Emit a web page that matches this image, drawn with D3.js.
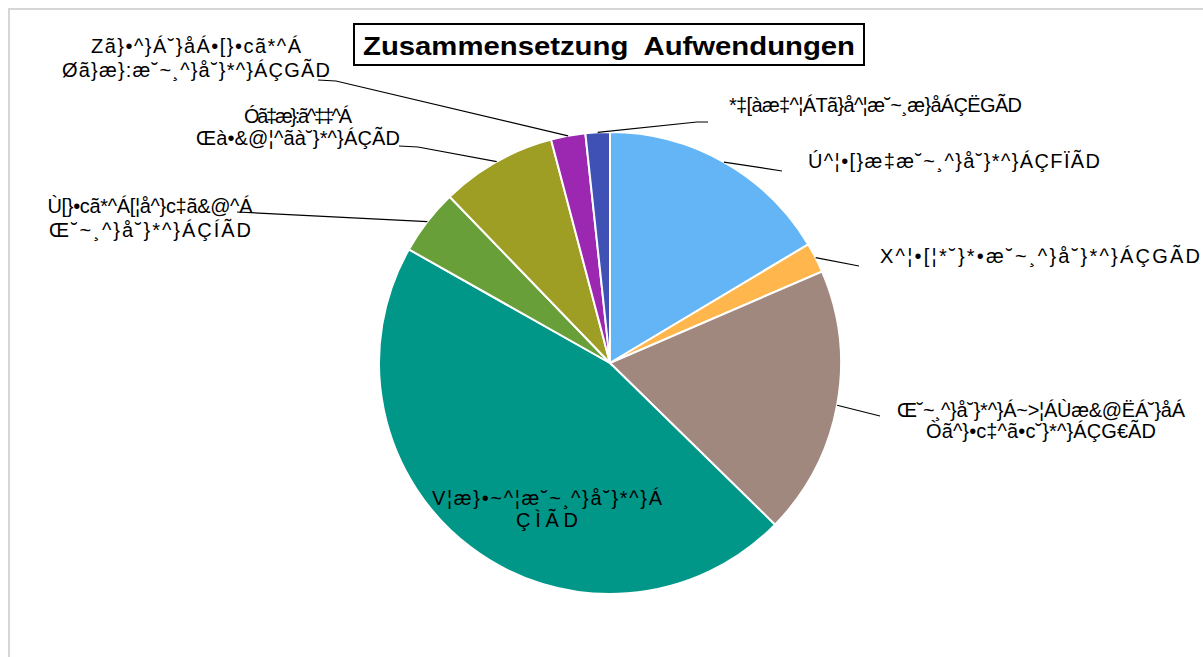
<!DOCTYPE html>
<html>
<head>
<meta charset="utf-8">
<script src="https://d3js.org/d3.v7.min.js"></script>
<style>
  body { margin: 0; background: #fff; }
  text { font-family: "Liberation Sans", Arial, sans-serif; }
</style>
</head>
<body>
<svg id="vis"></svg>
<script>
// slice shares in percent, clockwise from 12 o'clock
var categories = ["personal", "versorgung", "sachdienst", "transfer", "sonstige", "abschreibung", "zinsen", "minder"];
var values = [16.4, 2.1, 18.8, 45.8, 4.6, 8.1, 2.4, 1.7];
var colors = ["#64b5f6", "#ffb74d", "#a1887f", "#009688", "#689f38", "#9e9d24", "#9c27b0", "#3f51b5"];
// label lines, as printed in the picture
var labelLines = [
  ["Ú^¦•[}æ‡æ˘~¸^}å˘}*^}ÁÇFÏÃD"],
  ["X^¦•[¦*˘}*•æ˘~¸^}å˘}*^}ÁÇGÃD"],
  ["Œ˘~¸^}å˘}*^}Á~>¦ÁÙæ&@ËÁ˘}åÁ", "Òã^}•c‡^ã•c˘}*^}ÁÇG€ÃD"],
  ["V¦æ}•~^¦æ˘~¸^}å˘}*^}Á", "ÇÌÃD"],
  ["Ù[}•cã*^Á[¦å^}c‡ã&@^Á", "Œ˘~¸^}å˘}*^}ÁÇÍÃD"],
  ["Óã‡æ}:ã^‡‡^Á", "Œà•&@¦^ãà˘}*^}ÁÇÃD"],
  ["Zã}•^}Á˘}åÁ•[}•cã*^Á", "Øã}æ}:æ˘~¸^}å˘}*^}ÁÇGÃD"],
  ["*‡[àæ‡^¦ÁTã}å^¦æ˘~¸æ}åÁÇËGÃD"]
];
var title = "Zusammensetzung  Aufwendungen";

// label placement (x, first baseline, anchor, line gap, widths) and leader end points
var labelPos = [
  { x: 808, y: 168, anchor: "start", gap: 22, w: [292], leader: [[782, 171]] },
  { x: 880, y: 263, anchor: "start", gap: 22, w: [320], leader: [[859, 266]] },
  { x: 1041, y: 417, anchor: "middle", gap: 21, w: [288, 230], leader: [[880, 416]] },
  { x: 547, y: 505, anchor: "middle", gap: 22, w: [230, 62], leader: null },
  { x: 150, y: 213, anchor: "middle", gap: 24, w: [205, 202], leader: [[237, 212]] },
  { x: 298, y: 123, anchor: "middle", gap: 22, w: [108, 204], leader: [[418, 147], [399, 146]] },
  { x: 196, y: 53, anchor: "middle", gap: 24, w: [210, 268], leader: [[336, 81], [318, 80]] },
  { x: 729, y: 112, anchor: "start", gap: 22, w: [293], leader: [[697, 122], [708, 122]] }
];

var W = 1203, H = 657;
var cx = 610, cy = 363, R = 231;

var svg = d3.select("#vis").attr("width", W).attr("height", H);

// outer frame
svg.append("rect")
  .attr("x", 9).attr("y", 9)
  .attr("width", 1300).attr("height", 700)
  .attr("fill", "none")
  .attr("stroke", "#d6d6d6")
  .attr("stroke-width", 2);

var data = categories.map(function(c, i) { return { key: c, value: values[i], i: i } });

var pie = d3.pie().sort(null).value(function(d) { return d.value });
var arc = d3.arc().innerRadius(0).outerRadius(R);
var arcs = pie(data);

var g = svg.append("g").attr("transform", "translate(" + cx + "," + cy + ")");

g.selectAll("path.slice")
  .data(arcs)
  .enter().append("path")
  .attr("class", "slice")
  .attr("d", arc)
  .attr("fill", function(d) { return colors[d.data.i] })
  .attr("stroke", "#fff")
  .attr("stroke-width", 2);

// leader lines from the slice rim to the labels
arcs.forEach(function(a, i) {
  var lp = labelPos[i];
  if (!lp.leader) return;
  var mid = (a.startAngle + a.endAngle) / 2;
  var p0 = [cx + R * Math.sin(mid), cy - R * Math.cos(mid)];
  var pts = [p0].concat(lp.leader);
  svg.append("path")
    .attr("d", d3.line()(pts))
    .attr("fill", "none")
    .attr("stroke", "#000")
    .attr("stroke-width", 1.2);
});

// labels
labelLines.forEach(function(lines, i) {
  var lp = labelPos[i];
  lines.forEach(function(t, k) {
    svg.append("text")
      .attr("x", lp.x)
      .attr("y", lp.y + k * lp.gap)
      .attr("text-anchor", lp.anchor)
      .attr("font-size", 20)
      .attr("fill", "#000")
      .attr("textLength", lp.w[k])
      .attr("lengthAdjust", "spacing")
      .text(t);
  });
});

// title with box
svg.append("rect")
  .attr("x", 354).attr("y", 24)
  .attr("width", 510).attr("height", 41)
  .attr("fill", "#fff")
  .attr("stroke", "#000")
  .attr("stroke-width", 2);

svg.append("text")
  .attr("x", 609).attr("y", 55)
  .attr("text-anchor", "middle")
  .attr("font-size", 25)
  .attr("font-weight", "bold")
  .style("white-space", "pre")
  .attr("textLength", 492)
  .attr("lengthAdjust", "spacingAndGlyphs")
  .text(title);
</script>
</body>
</html>
